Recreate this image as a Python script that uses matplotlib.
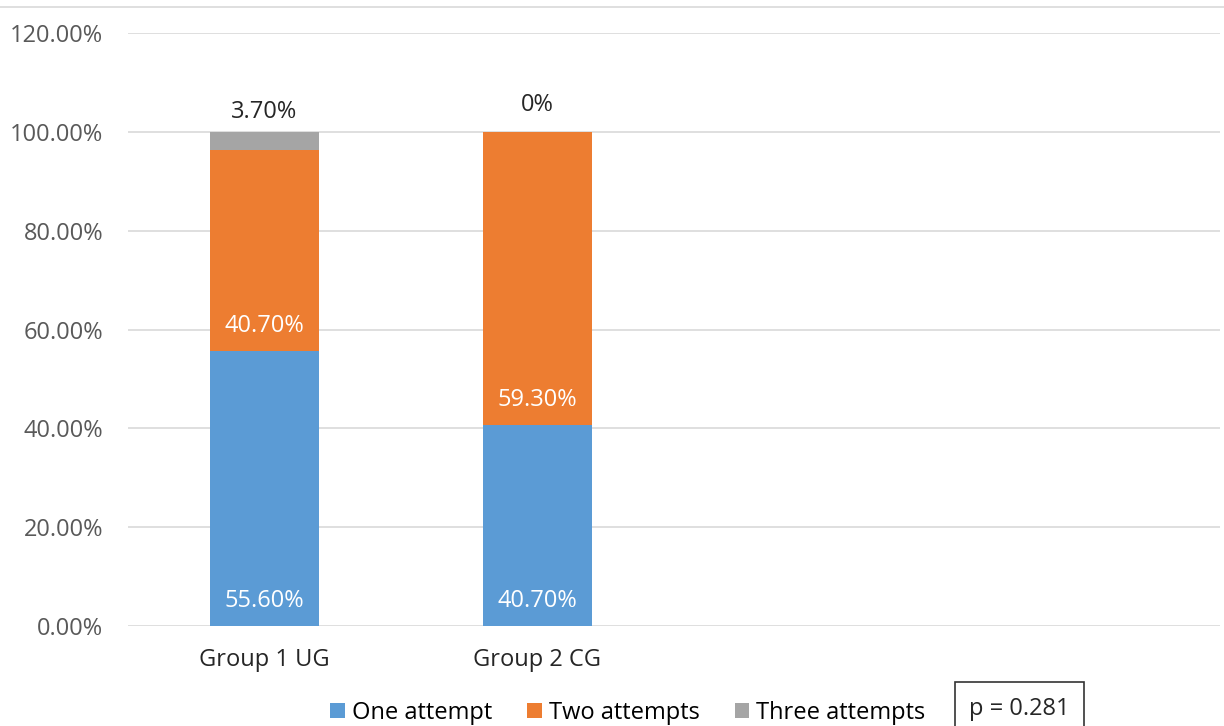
import numpy as np
import matplotlib
matplotlib.use('Agg')
import matplotlib.pyplot as plt
from matplotlib.lines import Line2D

# data (shares, 0..1)
groups = ['Group 1 UG', 'Group 2 CG', '', '']
one_attempt = [0.556, 0.407]
two_attempts = [0.407, 0.593]
three_attempts = [0.037, 0.0]
one_labels = ['55.60%', '40.70%']
two_labels = ['40.70%', '59.30%']
three_labels = ['3.70%', '0%']
yticks = [0, 0.2, 0.4, 0.6, 0.8, 1.0, 1.2]
p_text = 'p = 0.281'

plt.rcParams['font.family'] = ['Open Sans', 'DejaVu Sans']

blue = '#5B9BD5'
orange = '#ED7D31'
grey = '#A5A5A5'
fs = 17

fig = plt.figure(figsize=(12.24, 7.26), dpi=100)
ax = fig.add_axes([0.1046, 0.1377, 0.892, 0.8168])

x = np.arange(len(one_attempt))
w = 0.4
one = np.array(one_attempt)
two = np.array(two_attempts)
three = np.array(three_attempts)

ax.bar(x, one, w, color=blue, label='One attempt', zorder=2)
ax.bar(x, two, w, bottom=one, color=orange, label='Two attempts', zorder=2)
ax.bar(x, three, w, bottom=one + two, color=grey, label='Three attempts', zorder=2)

# labels near the base of each segment (white)
for i in range(len(x)):
    ax.annotate(one_labels[i], (x[i], 0), xytext=(0, 18), textcoords='offset points',
                ha='center', va='center', color='white', fontsize=fs)
    ax.annotate(two_labels[i], (x[i], one[i]), xytext=(0, 18), textcoords='offset points',
                ha='center', va='center', color='white', fontsize=fs)
# labels above the stack
offs = [14, 19]
for i in range(len(x)):
    ax.annotate(three_labels[i], (x[i], one[i] + two[i] + three[i]), xytext=(0, offs[i]),
                textcoords='offset points', ha='center', va='center',
                color='#262626', fontsize=fs)

ax.set_xlim(-0.5, len(groups) - 0.5)
ax.set_ylim(0, 1.2)
ax.set_xticks(np.arange(len(groups)))
ax.set_xticklabels(groups, fontsize=fs, color='#262626')
ax.set_yticks(yticks)
ax.set_yticklabels(['%.2f%%' % (v * 100) for v in yticks], fontsize=fs, color='#595959')
ax.tick_params(axis='both', length=0)
ax.tick_params(axis='x', pad=16)
ax.tick_params(axis='y', pad=18)
ax.yaxis.grid(True, color='#D9D9D9', linewidth=1.2, zorder=0)
for s in ax.spines.values():
    s.set_visible(False)

fig.legend(loc='center', bbox_to_anchor=(0.513, 0.018), ncol=3, frameon=False,
           fontsize=fs, handlelength=0.6, handleheight=0.6, handletextpad=0.3,
           columnspacing=1.5)

fig.text(0.833, 0.024, p_text, ha='center', va='center', fontsize=fs, color='#262626',
         bbox=dict(boxstyle='square,pad=0.6', facecolor='white', edgecolor='#333333', linewidth=1.2))

# thin frame line at the top
fig.add_artist(Line2D([0, 1], [0.9904, 0.9904], color='#D9D9D9', linewidth=1.2))

fig.savefig('out.png', dpi=100)
